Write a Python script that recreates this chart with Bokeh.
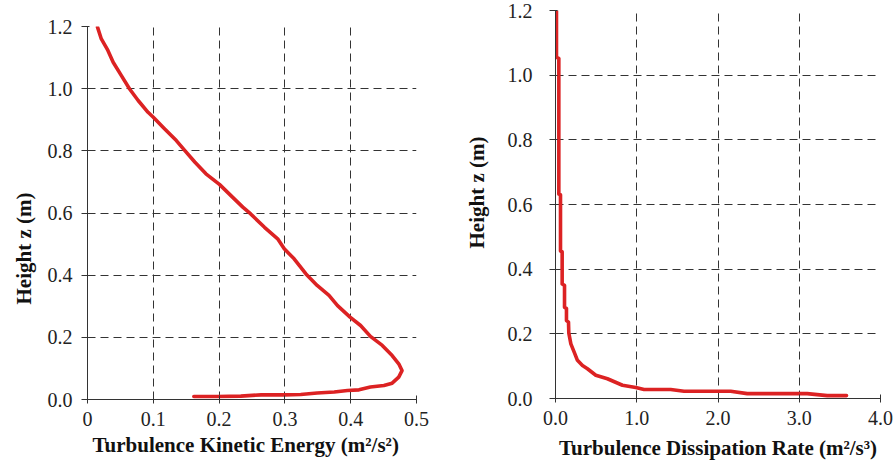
from bokeh.plotting import figure
from bokeh.layouts import row
from bokeh.models import Range1d, FixedTicker, Title
from bokeh.embed import file_html
from bokeh.resources import INLINE

# --- Data: Turbulence kinetic energy profile ---
tke_x = [0.0152, 0.021, 0.031, 0.039, 0.0515, 0.064, 0.077, 0.092, 0.100, 0.117,
         0.135, 0.149, 0.163, 0.180, 0.2005, 0.218, 0.236, 0.248, 0.269, 0.289,
         0.299, 0.314, 0.332, 0.349, 0.367, 0.380, 0.399, 0.415, 0.430, 0.448,
         0.463, 0.473, 0.478, 0.473, 0.463, 0.4505, 0.430, 0.4126, 0.395, 0.375,
         0.349, 0.324, 0.299, 0.264, 0.233, 0.198, 0.1616]
tke_z = [1.198, 1.160, 1.123, 1.085, 1.042, 0.999, 0.962, 0.924, 0.908, 0.871,
         0.833, 0.798, 0.764, 0.726, 0.692, 0.656, 0.619, 0.597, 0.554, 0.517,
         0.485, 0.4525, 0.404, 0.367, 0.335, 0.302, 0.265, 0.238, 0.203, 0.174,
         0.1415, 0.115, 0.093, 0.072, 0.0525, 0.045, 0.040, 0.031, 0.029, 0.024,
         0.021, 0.016, 0.015, 0.015, 0.011, 0.0097, 0.0097]

# --- Data: Turbulence dissipation rate profile ---
eps_x = [0.012, 0.012, 0.041, 0.041, 0.0615, 0.0615, 0.082, 0.082, 0.111, 0.111,
         0.135, 0.135, 0.160, 0.164, 0.189, 0.230, 0.270, 0.332, 0.393, 0.496,
         0.639, 0.824, 0.988, 1.09, 1.418, 1.582, 2.156, 2.36, 3.098, 3.344, 3.582]
eps_z = [1.200, 1.055, 1.052, 0.632, 0.630, 0.456, 0.454, 0.354, 0.350, 0.282,
         0.279, 0.241, 0.236, 0.202, 0.169, 0.1435, 0.118, 0.102, 0.092, 0.072,
         0.061, 0.041, 0.034, 0.028, 0.028, 0.0225, 0.0225, 0.015, 0.015, 0.009, 0.009]

z_ticks = [0.0, 0.2, 0.4, 0.6, 0.8, 1.0, 1.2]
z_labels = ["0.0", "0.2", "0.4", "0.6", "0.8", "1.0", "1.2"]
tke_ticks = [0.0, 0.1, 0.2, 0.3, 0.4, 0.5]
tke_labels = ["0", "0.1", "0.2", "0.3", "0.4", "0.5"]
eps_ticks = [0.0, 1.0, 2.0, 3.0, 4.0]
eps_labels = ["0.0", "1.0", "2.0", "3.0", "4.0"]

FONT = "Liberation Serif"
RED = "#dc2223"


def style(p, xticks, xlabels, ystand):
    p.xaxis.ticker = FixedTicker(ticks=xticks)
    p.yaxis.ticker = FixedTicker(ticks=z_ticks)
    p.xaxis.major_label_overrides = {t: l for t, l in zip(xticks, xlabels)}
    p.yaxis.major_label_overrides = {t: l for t, l in zip(z_ticks, z_labels)}
    for ax in (p.xaxis[0], p.yaxis[0]):
        ax.major_label_text_font = FONT
        ax.major_label_text_font_size = "20px"
        ax.major_label_text_color = "#222222"
        ax.axis_line_color = "#333333"
        ax.major_tick_line_color = "#333333"
        ax.minor_tick_line_color = None
    p.xaxis.major_tick_in = 4
    p.xaxis.major_tick_out = 4
    p.yaxis.major_tick_in = 2
    p.yaxis.major_tick_out = 6
    p.xaxis.major_label_standoff = 8
    p.yaxis.major_label_standoff = ystand
    for g in (p.xgrid[0], p.ygrid[0]):
        g.grid_line_color = "#333333"
        g.grid_line_dash = "8 5"
        g.grid_line_width = 1
    p.outline_line_color = None
    p.background_fill_color = "white"
    p.border_fill_color = "white"


def side_title(p, text, place, align, offset, standoff):
    t = Title(text=text, align=align, offset=offset, standoff=standoff,
              text_font=FONT, text_font_style="bold", text_font_size="21px",
              text_color="#111111")
    p.add_layout(t, place)


p1 = figure(width=440, height=468, x_range=Range1d(0, 0.5), y_range=Range1d(0, 1.2),
            output_backend="svg", toolbar_location=None, frame_align=False,
            min_border_left=86, min_border_right=24, min_border_top=26, min_border_bottom=69)
p1.line(tke_x, tke_z, line_color=RED, line_width=3.6, line_join="round", line_cap="round")
style(p1, tke_ticks, tke_labels, 9)
side_title(p1, "Turbulence Kinetic Energy (m²/s²)", "below", "left", 5, 4)
side_title(p1, "Height z (m)", "left", "left", 95, 18)

p2 = figure(width=453, height=468, x_range=Range1d(0, 4.0), y_range=Range1d(0, 1.2),
            output_backend="svg", toolbar_location=None, frame_align=False,
            min_border_left=115, min_border_right=13, min_border_top=10, min_border_bottom=70)
p2.line(eps_x, eps_z, line_color=RED, line_width=3.6, line_join="round", line_cap="round")
style(p2, eps_ticks, eps_labels, 17)
side_title(p2, "Turbulence Dissipation Rate (m²/s³)", "below", "center", 0, 12)
side_title(p2, "Height  z (m)", "left", "left", 150, 32)

layout = row(p1, p2)
open("out.html", "w").write(file_html(layout, INLINE))
